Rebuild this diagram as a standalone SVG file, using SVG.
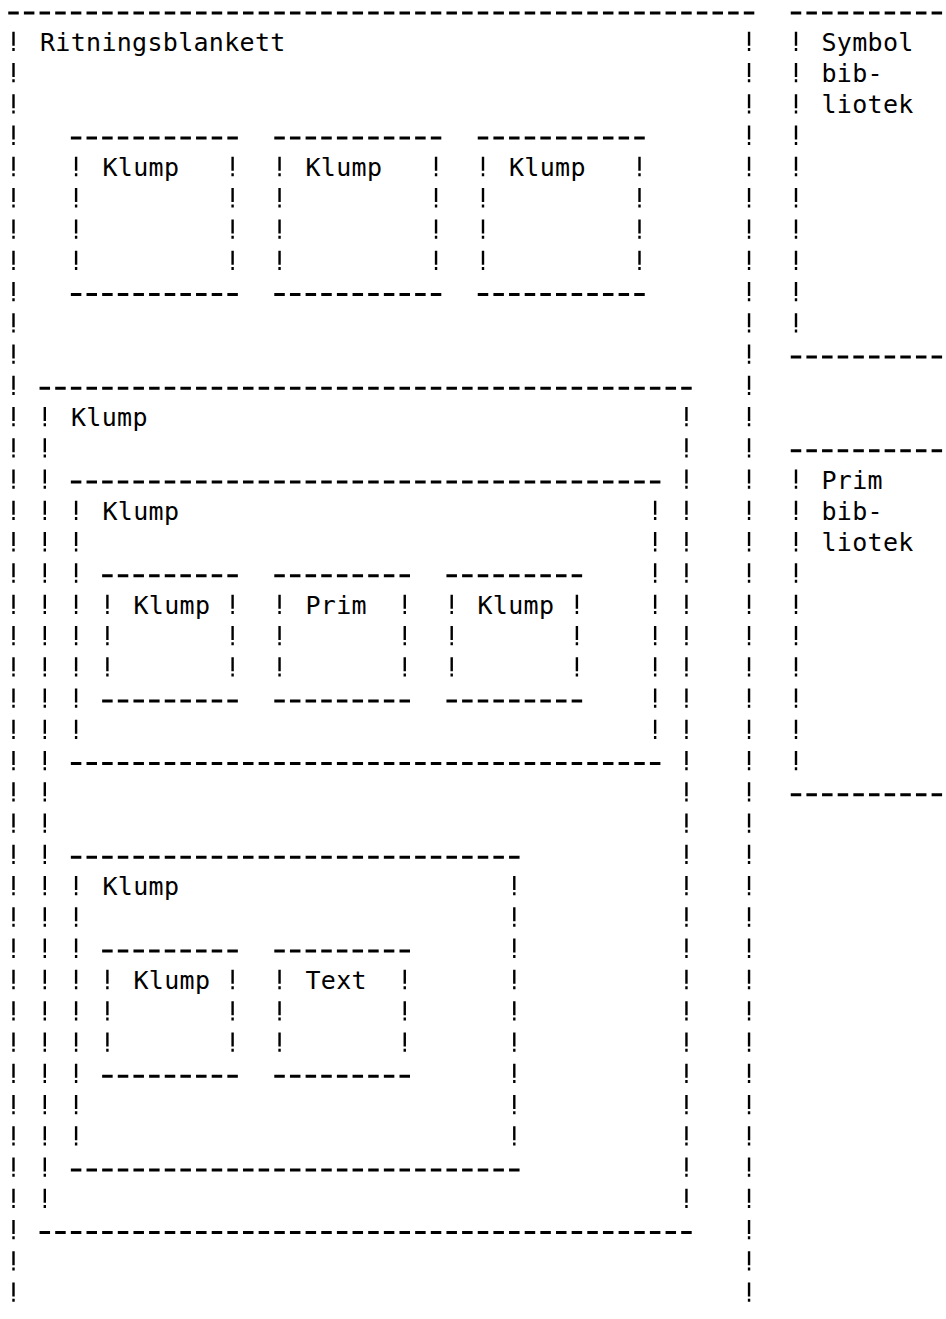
<svg xmlns="http://www.w3.org/2000/svg" width="946" height="1319" viewBox="0 0 946 1319">
<style>
.h{stroke:#000;stroke-width:3;stroke-dasharray:10.5 5.15;fill:none}
.v{stroke:#000;stroke-width:2.4;stroke-dasharray:14 2.3 3 11.97;fill:none}
text{font-family:"DejaVu Sans Mono","Liberation Mono",monospace;font-size:25px;letter-spacing:0.3px;fill:#000}
</style>
<rect width="946" height="1319" fill="#fff"/>
<g id="ritningsblankett">
<path class="h" d="M8.25 13H754.3"/>
<path class="v" d="M13.5 31.77V1302M749.05 31.77V1302"/>
<text x="40" y="50.77">Ritningsblankett</text>
</g>
<g id="symbolbibliotek">
<path class="h" d="M790.75 13H957.75M790.75 356.97H957.75"/>
<path class="v" d="M796 31.77V332.7"/>
<text x="821.5" y="50.77">Symbol</text>
<text x="821.5" y="82.04">bib-</text>
<text x="821.5" y="113.31">liotek</text>
</g>
<g id="primbibliotek">
<path class="h" d="M790.75 450.78H957.75M790.75 794.75H957.75"/>
<path class="v" d="M796 469.55V770.5"/>
<text x="821.5" y="488.55">Prim</text>
<text x="821.5" y="519.82">bib-</text>
<text x="821.5" y="551.09">liotek</text>
</g>
<g id="klump-top-1">
<path class="h" d="M70.85 138.08H237.85M70.85 294.43H237.85"/>
<path class="v" d="M76.1 156.85V270.2M232.6 156.85V270.2"/>
<text x="102.5" y="175.85">Klump</text>
</g>
<g id="klump-top-2">
<path class="h" d="M274.3 138.08H441.3M274.3 294.43H441.3"/>
<path class="v" d="M279.55 156.85V270.2M436.05 156.85V270.2"/>
<text x="305.5" y="175.85">Klump</text>
</g>
<g id="klump-top-3">
<path class="h" d="M477.75 138.08H644.75M477.75 294.43H644.75"/>
<path class="v" d="M483 156.85V270.2M639.5 156.85V270.2"/>
<text x="509" y="175.85">Klump</text>
</g>
<g id="klump-big">
<path class="h" d="M39.55 388.24H691.7M39.55 1232.53H691.7"/>
<path class="v" d="M44.8 407.01V1208.3M686.45 407.01V1208.3"/>
<text x="71" y="426.01">Klump</text>
</g>
<g id="klump-mid">
<path class="h" d="M70.85 482.05H660.4M70.85 763.48H660.4"/>
<path class="v" d="M76.1 500.82V739.2M655.15 500.82V739.2"/>
<text x="102.5" y="519.82">Klump</text>
</g>
<g id="klump-mid-1">
<path class="h" d="M102.15 575.86H237.85M102.15 700.94H237.85"/>
<path class="v" d="M107.4 594.63V676.7M232.6 594.63V676.7"/>
<text x="133.5" y="613.63">Klump</text>
</g>
<g id="prim-mid">
<path class="h" d="M274.3 575.86H410M274.3 700.94H410"/>
<path class="v" d="M279.55 594.63V676.7M404.75 594.63V676.7"/>
<text x="305.5" y="613.63">Prim</text>
</g>
<g id="klump-mid-2">
<path class="h" d="M446.45 575.86H582.15M446.45 700.94H582.15"/>
<path class="v" d="M451.7 594.63V676.7M576.9 594.63V676.7"/>
<text x="477.5" y="613.63">Klump</text>
</g>
<g id="klump-low">
<path class="h" d="M70.85 857.29H519.55M70.85 1169.99H519.55"/>
<path class="v" d="M76.1 876.06V1145.7M514.3 876.06V1145.7"/>
<text x="102.5" y="895.06">Klump</text>
</g>
<g id="klump-low-1">
<path class="h" d="M102.15 951.1H237.85M102.15 1076.18H237.85"/>
<path class="v" d="M107.4 969.87V1051.9M232.6 969.87V1051.9"/>
<text x="133.5" y="988.87">Klump</text>
</g>
<g id="text-low">
<path class="h" d="M274.3 951.1H410M274.3 1076.18H410"/>
<path class="v" d="M279.55 969.87V1051.9M404.75 969.87V1051.9"/>
<text x="305.5" y="988.87">Text</text>
</g>
<g id="connectors"/>
</svg>
